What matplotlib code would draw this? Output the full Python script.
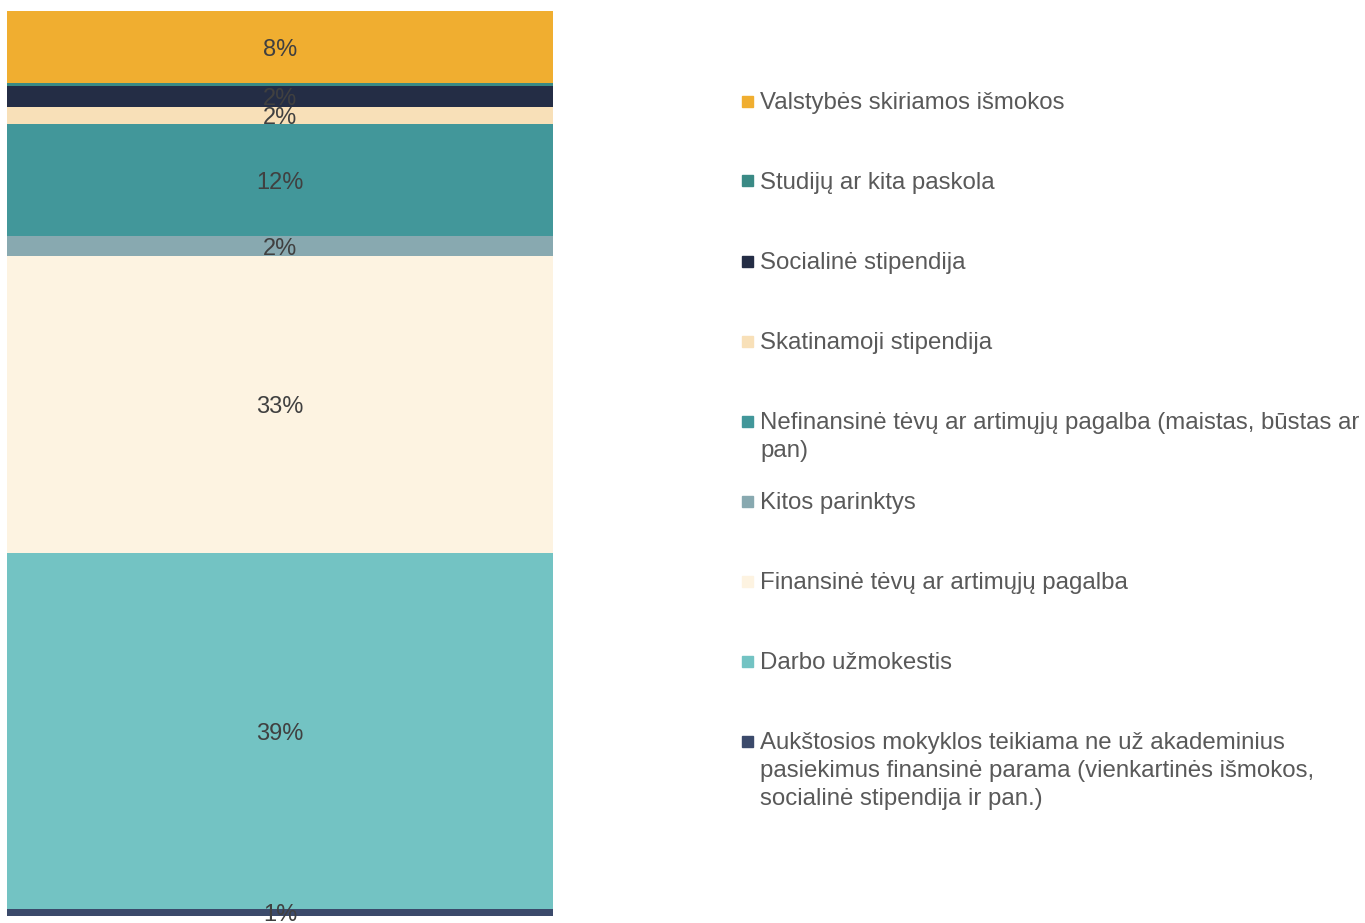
import matplotlib.pyplot as plt
from matplotlib.patches import Rectangle

plt.rcParams['font.family'] = ['Liberation Sans', 'DejaVu Sans']

# stacked from the bottom up
categories = [
    'Aukštosios mokyklos teikiama ne už akademinius\npasiekimus finansinė parama (vienkartinės išmokos,\nsocialinė stipendija ir pan.)',
    'Darbo užmokestis',
    'Finansinė tėvų ar artimųjų pagalba',
    'Kitos parinktys',
    'Nefinansinė tėvų ar artimųjų pagalba (maistas, būstas ar\npan)',
    'Skatinamoji stipendija',
    'Socialinė stipendija',
    'Studijų ar kita paskola',
    'Valstybės skiriamos išmokos',
]
values = [0.8, 39.3, 32.8, 2.2, 12.4, 1.9, 2.3, 0.3, 8.0]
labels = ['1%', '39%', '33%', '2%', '12%', '2%', '2%', '', '8%']
colors = ['#3b4a6b', '#73c3c3', '#fdf3e1', '#88a9b0', '#42979a',
          '#f8e0b8', '#242d45', '#3a8a85', '#f0ae30']

W, H = 1365, 923
fig = plt.figure(figsize=(W / 100, H / 100), dpi=100)
ax = fig.add_axes([7 / W, 7 / H, (553 - 7) / W, (916 - 11) / H])

bottom = 0
for v, lab, c in zip(values, labels, colors):
    ax.bar(0, v, width=1, bottom=bottom, color=c, linewidth=0)
    if lab:
        ax.annotate(lab, (0, bottom + v / 2), xytext=(0, -2), textcoords='offset points',
                    ha='center', va='center', fontsize=17, color='#404040')
    bottom += v
ax.set_xlim(-0.5, 0.5)
ax.set_ylim(0, sum(values))
ax.axis('off')

# legend, top entry first, fixed row spacing
row_y = 101
for cat, c in zip(categories[::-1], colors[::-1]):
    fig.patches.append(Rectangle((742 / W, 1 - (row_y + 5.5) / H), 11 / W, 11 / H,
                                 transform=fig.transFigure, color=c))
    fig.text(760 / W, 1 - (row_y - 9) / H, cat, ha='left', va='top',
             fontsize=17.3, color='#595959', linespacing=1.36)
    row_y += 80

fig.savefig('out.png', dpi=100)
